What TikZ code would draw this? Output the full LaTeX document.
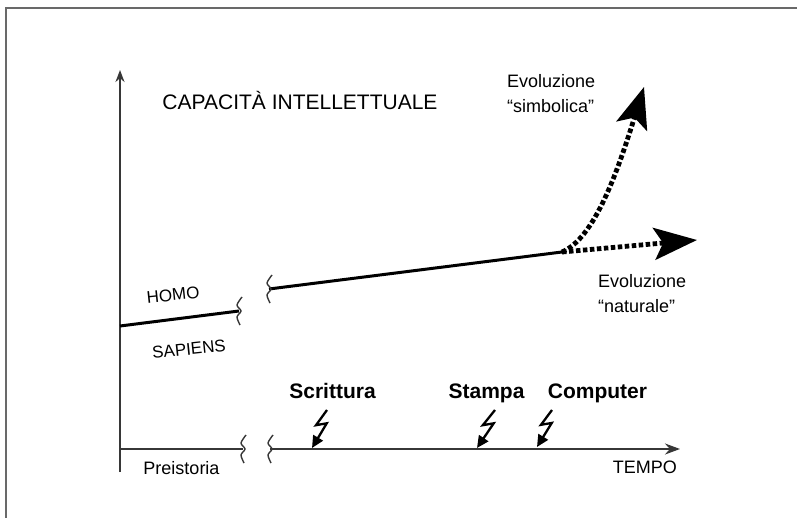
\documentclass[tikz,border=0pt]{standalone}
\usepackage{fontspec}
\setmainfont{Liberation Sans}
\usepackage{tikz}
\usetikzlibrary{arrows.meta, calc}
\definecolor{axisgray}{RGB}{55, 55, 55}
\definecolor{framegray}{RGB}{105, 105, 105}
\tikzstyle{axis} = [
    line width=1.9pt, 
    color=axisgray
]
\tikzstyle{txt} = [
    inner sep=0pt, 
    font=\fontsize{18}{25}\selectfont
]
\tikzstyle{event} = [
    inner sep=0pt, 
    font=\fontsize{21}{25}\selectfont\bfseries
]
\tikzstyle{trend} = [
    line width=3pt, 
    color=black
]
\tikzstyle{future} = [
    line width=4.8pt, 
    dash pattern=on 4.5pt off 2.5pt
]
\tikzstyle{bolt} = [
    line width=2.3pt, 
    -{Triangle[length=12pt, width=11pt]},
    to path={-- ($(\tikztostart)!0.4!(\tikztotarget)+(-5,0)$) -- ($(\tikztostart)!0.35!(\tikztotarget)+(5,0)$) -- (\tikztotarget)}
]
\tikzset{cut/.pic={\draw[line width=1.4pt, color=axisgray] plot[smooth] coordinates {(3,-14) (-2,-6) (2,0) (-2,6) (1,14)};}}

\begin{document}
\begin{tikzpicture}[x=1pt, y=-1pt]
        \useasboundingbox (0,0) rectangle (797,518);
        \draw[line width=1.6pt, color=framegray] (6,518) -- (6,8) -- (797,8);

        % axes
        \coordinate (O) at (120,449);
        \coordinate (ytop) at (120,70);
        \coordinate (ybot) at (120,472);
        \coordinate (xa) at (243,449);
        \coordinate (xb) at (270,449);
        \coordinate (xend) at (680,449);
        \draw[axis, -{Stealth[length=12pt, width=9pt]}] (ybot) -- (ytop);
        \draw[axis] (O) -- (xa);
        \draw[axis, -{Stealth[length=15pt, width=11pt]}] (xb) -- (xend);
        \pic at (xa) {cut};
        \pic at (xb) {cut};

        \node[txt, font=\fontsize{21}{25}\selectfont, anchor=base] (title) at (300,109.5) {CAPACITÀ INTELLETTUALE};
        \node[txt, anchor=base] (preist) at (181.5,474) {Preistoria};
        \node[txt, anchor=base east] (tempo) at (677,473) {TEMPO};

        % evolution line
        \coordinate (h0) at (120,326);
        \coordinate (h1) at (239,311);
        \coordinate (m0) at (269,289);
        \coordinate (fork) at (562,252);
        \draw[trend] (h0) -- (h1);
        \draw[trend] (m0) -- (fork);
        \pic at (h1) {cut};
        \pic at (m0) {cut};
        \node[txt, font=\fontsize{17}{20}\selectfont, rotate=6] (homo) at (173,295) {HOMO};
        \node[txt, font=\fontsize{17}{20}\selectfont, rotate=6] (sapiens) at (189,349) {SAPIENS};

        % two futures
        \coordinate (natend) at (697,240);
        \coordinate (symend) at (644,87);
        \draw[future, -{Stealth[length=43pt, width=32pt, inset=9pt]}] (fork) -- (natend);
        \draw[future, -{Stealth[length=41pt, width=32pt, inset=9pt]}] (fork) .. controls (595,238) and (618,170) .. (symend);
        \node[txt, align=left, anchor=north west] (evsimb) at (507,74) {Evoluzione\\“simbolica”};
        \node[txt, align=left, anchor=north west] (evnat) at (598,274) {Evoluzione\\“naturale”};

        % inventions
        \node[event, anchor=base] (scritt) at (332.5,398) {Scrittura};
        \node[event, anchor=base] (stampa) at (486.5,398) {Stampa};
        \node[event, anchor=base] (comp) at (597.5,398) {Computer};
        \coordinate (scr-top) at (327,410);
        \coordinate (scr-tip) at (312,448);
        \coordinate (sta-top) at (495,410);
        \coordinate (sta-tip) at (477,448);
        \coordinate (com-top) at (552,410);
        \coordinate (com-tip) at (537,447);
        \draw[bolt] (scr-top) to (scr-tip);
        \draw[bolt] (sta-top) to (sta-tip);
        \draw[bolt] (com-top) to (com-tip);
    \end{tikzpicture}
\end{document}
